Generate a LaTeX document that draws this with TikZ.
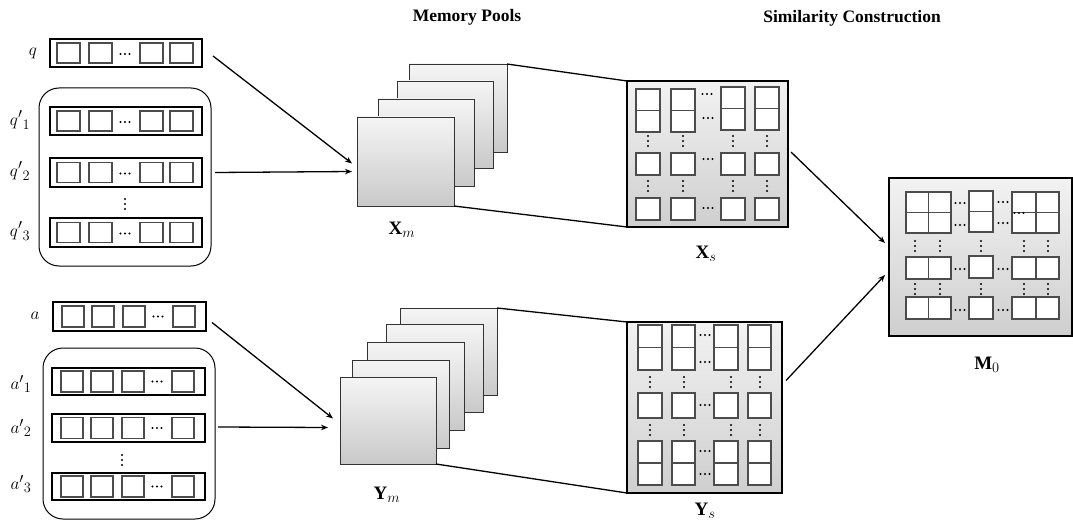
\documentclass[tikz,border=0pt]{standalone}
\usepackage{fontspec}
\setmainfont{Liberation Serif}
\usetikzlibrary{arrows.meta,shadows}
\tikzset{
  rowbox/.style={draw=black, line width=1.4pt, minimum width=152pt, inner sep=0pt, outer sep=0pt, anchor=north west},
  cell/.style={draw=black!70, fill=white, line width=1.2pt, inner sep=0pt, outer sep=0pt, anchor=north west,
    drop shadow={shadow xshift=0.8pt, shadow yshift=-0.9pt, opacity=0.35}},
  groupbox/.style={draw=black, line width=1pt, rounded corners=20pt},
  layer/.style={draw=black!80, line width=0.9pt, top color=gray!8, bottom color=gray!42, inner sep=0pt, outer sep=0pt, anchor=north west},
  gridbox/.style={draw=black, line width=1.6pt, top color=gray!10, bottom color=gray!38, inner sep=0pt, outer sep=0pt, anchor=north west},
  arr/.style={line width=1.3pt, -{Stealth[length=7pt,width=5.5pt]}},
  link/.style={line width=1.3pt},
  lbl/.style={font=\fontsize{19}{22}\selectfont},
  ttl/.style={font=\fontsize{17.5}{20}\selectfont\bfseries}
}
\newcommand{\hdt}[2]{\foreach \k in {-4.5,0,4.5}{\fill ({#1+\k},{#2}) circle (1.1pt);}}
\newcommand{\vdt}[2]{\foreach \k in {-5,0,5}{\fill ({#1},{#2+\k}) circle (1.1pt);}}
% q-type row: name, x, y, height
\newcommand{\qline}[4]{%
  \node[rowbox, minimum height=#4pt] (#1) at (#2,#3) {};
  \foreach \d [count=\i] in {7,39,90,120}{\node[cell, minimum width=23pt, minimum height=20pt] (#1c\i) at ({#2+\d},{#3+#4/2-10}) {};}
  \hdt{#2+75}{#3+#4/2+1}}
% a-type row
\newcommand{\aline}[4]{%
  \node[rowbox, minimum width=153pt, minimum height=#4pt] (#1) at (#2,#3) {};
  \foreach \d [count=\i] in {9,39,70,120}{\node[cell, minimum width=22pt, minimum height=21pt] (#1c\i) at ({#2+\d},{#3+#4/2-10.5}) {};}
  \hdt{#2+105}{#3+#4/2}}
\begin{document}
\begin{tikzpicture}[x=1pt,y=-1pt]
\useasboundingbox (0,0) rectangle (1073,532);

% titles
\node[ttl] (t1) at (467,17) {Memory Pools};
\node[ttl] (t2) at (852,18) {Similarity Construction};

% ---------- q side ----------
\node[lbl] (lq) at (33,53) {$q$};
\qline{qrow}{50}{39}{28}
\draw[groupbox] (39,88) rectangle (211,266);
\qline{q1row}{50}{107}{28}
\qline{q2row}{50}{158}{29}
\vdt{125}{204}
\qline{q3row}{50}{218}{29}
\node[lbl] (lq1) at (20,120) {${q'}_{1}$};
\node[lbl] (lq2) at (20,171) {${q'}_{2}$};
\node[lbl] (lq3) at (20,231) {${q'}_{3}$};

% ---------- a side ----------
\node[lbl] (la) at (35,316) {$a$};
\aline{arow}{53}{302}{29}
\draw[groupbox] (43,348) rectangle (215,519);
\aline{a1row}{52}{368}{27}
\aline{a2row}{52}{414}{28}
\vdt{122}{460}
\aline{a3row}{52}{473}{27}
\node[lbl] (la1) at (21,384) {${a'}_{1}$};
\node[lbl] (la2) at (21,428) {${a'}_{2}$};
\node[lbl] (la3) at (21,484) {${a'}_{3}$};

% ---------- Xm stack ----------
\node[layer, minimum width=98pt, minimum height=88pt] (Xm4) at (409,64) {};
\node[layer, minimum width=96pt, minimum height=87pt] (Xm3) at (397,81) {};
\node[layer, minimum width=96pt, minimum height=87pt] (Xm2) at (378,99) {};
\node[layer, minimum width=97pt, minimum height=89pt] (Xm1) at (357,117) {};
\node[lbl] (lxm) at (402,230) {$\mathbf{X}_{m}$};

% ---------- Ym stack ----------
\node[layer, minimum width=97pt, minimum height=87pt] (Ym5) at (400,308) {};
\node[layer, minimum width=97pt, minimum height=88pt] (Ym4) at (386,324) {};
\node[layer, minimum width=97pt, minimum height=88pt] (Ym3) at (367,342) {};
\node[layer, minimum width=97pt, minimum height=88pt] (Ym2) at (352,360) {};
\node[layer, minimum width=96pt, minimum height=87pt] (Ym1) at (340,377) {};
\node[lbl] (lym) at (387,495) {$\mathbf{Y}_{m}$};

% ---------- Xs grid ----------
\node[gridbox, minimum width=161pt, minimum height=146pt] (Xs) at (627,81) {};
\foreach \x/\t [count=\i] in {636/89,671/89,721/87,755/87}{
  \node[cell, minimum width=24pt, minimum height=21.5pt] (xsa\i) at (\x,\t) {};
  \node[cell, minimum width=24pt, minimum height=21.5pt] (xsb\i) at (\x,\t+21.5) {};
  \node[cell, minimum width=24pt, minimum height=22pt] (xsc\i) at (\x,153) {};
  \node[cell, minimum width=24pt, minimum height=22pt] (xsd\i) at (\x,198) {};
  \vdt{\x+12}{141}
  \vdt{\x+12}{186}
}
\hdt{707}{94}\hdt{708}{118}\hdt{708}{159}\hdt{708}{208}
\node[lbl] (lxs) at (706,254) {$\mathbf{X}_{s}$};

% ---------- Ys grid ----------
\node[gridbox, minimum width=155pt, minimum height=171pt] (Ys) at (627,322) {};
\foreach \x/\w/\dx [count=\i] in {638/24/12,672/23/12,714/24/17,748/23/12}{
  \node[cell, minimum width=\w pt, minimum height=22.5pt] (ysa\i) at (\x,325) {};
  \node[cell, minimum width=\w pt, minimum height=22.5pt] (ysb\i) at (\x,347.5) {};
  \node[cell, minimum width=\w pt, minimum height=25pt] (ysc\i) at (\x,393) {};
  \node[cell, minimum width=\w pt, minimum height=22pt] (ysd\i) at (\x,441) {};
  \node[cell, minimum width=\w pt, minimum height=22pt] (yse\i) at (\x,463) {};
  \vdt{\x+\dx}{382}
  \vdt{\x+\dx}{430}
}
\hdt{705}{335}\hdt{705}{362}\hdt{705}{405}\hdt{705}{451}\hdt{705}{474}
\node[lbl] (lys) at (705,511) {$\mathbf{Y}_{s}$};

% ---------- M0 grid ----------
\node[gridbox, minimum width=183pt, minimum height=158pt] (M0) at (889,178) {};
\foreach \x/\w/\t [count=\i] in {906/22.5/192,928.5/22.5/192,969/24/191,1012/24/192,1036/23/192}{
  \node[cell, minimum width=\w pt, minimum height=20.5pt] (ma\i) at (\x,\t) {};
  \node[cell, minimum width=\w pt, minimum height=20.5pt] (mb\i) at (\x,\t+20.5) {};
  \node[cell, minimum width=\w pt, minimum height=22pt] (mc\i) at (\x,\t+65) {};
  \node[cell, minimum width=\w pt, minimum height=22pt] (md\i) at (\x,297) {};
}
\foreach \x in {915,940,981,1024,1048}{\vdt{\x}{246}\vdt{\x}{289}}
\hdt{960}{203}\hdt{960}{225}\hdt{960}{269}\hdt{960}{310}
\hdt{1003}{202}\hdt{1003}{223}\hdt{1003}{269}\hdt{1003}{310}
\hdt{1019}{213}
\node[lbl] (lm0) at (987,365) {$\mathbf{M}_{0}$};

% ---------- connectors ----------
\draw[arr] ([shift={(11,3)}]qrow.east) -- ([shift={(-5,2)}]Xm1.west);
\draw[arr] ([shift={(13,0)}]q2row.east) -- ([shift={(-5,10)}]Xm1.west);
\draw[arr] ([shift={(6,6)}]arow.east) -- ([shift={(-7,-2)}]Ym1.west);
\draw[arr] ([shift={(13,-1)}]a2row.east) -- ([shift={(-12,7)}]Ym1.west);

\draw[link] (Xm4.north east) -- (Xs.north west);
\draw[link] (Xm1.south east) -- (Xs.south west);
\draw[link] (Ym5.north east) -- (Ys.north west);
\draw[link] (Ym1.south east) -- (Ys.south west);

\draw[arr] ([shift={(3,-2)}]Xs.east) -- ([shift={(-4,-14)}]M0.west);
\draw[arr] ([shift={(4,-27)}]Ys.east) -- ([shift={(-4,18)}]M0.west);
\end{tikzpicture}
\end{document}
